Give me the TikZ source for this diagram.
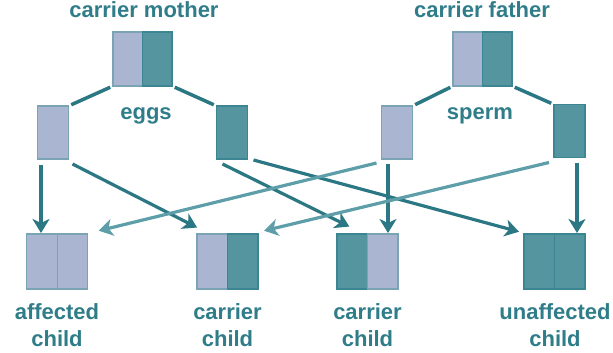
\documentclass[tikz,border=0pt]{standalone}
\usepackage{fontspec}
\setmainfont{Liberation Sans}
\usetikzlibrary{positioning,arrows.meta}
\definecolor{paleblue}{HTML}{AAB6D1}
\definecolor{tealfill}{HTML}{5595A0}
\definecolor{tealtext}{HTML}{2F7D89}
\definecolor{tealarrow}{HTML}{2B7884}
\definecolor{tealthin}{HTML}{5E9EA9}
\definecolor{paleedge}{HTML}{7AA3B3}
\definecolor{tealedge}{HTML}{3B8692}

\begin{document}
\begin{tikzpicture}[
	x=1pt, y=-1pt,
	half/.style = {minimum width=29.5pt, minimum height=54pt, inner sep=0pt, outer sep=0pt, line width=1.2pt},
	gamete/.style = {half, minimum width=31pt, minimum height=53pt},
	child/.style = {half, minimum width=30.5pt, minimum height=55pt},
	faulty/.style = {fill=paleblue, draw=paleedge},
	healthy/.style = {fill=tealfill, draw=tealedge},
	lbl/.style = {text=tealtext, font=\bfseries\fontsize{22}{27}\selectfont, align=center, inner sep=0pt},
	split/.style = {draw=tealarrow, line width=3.5pt, shorten <=3pt, shorten >=3pt},
	inherit/.style = {draw=tealarrow, line width=3.2pt, shorten >=1pt, -{Stealth[length=14pt,width=17pt,inset=4pt]}},
	inheritlight/.style = {inherit, draw=tealthin},
	]
	\useasboundingbox (0,0) rectangle (613,353);

	% parents
	\node[lbl, anchor=base] (mumlbl) at (144,18) {carrier mother};
	\node[half, faulty] (mL) at (127.75,59) {};
	\node[half, healthy, right=0pt of mL] (mR) {};
	\node[lbl, anchor=base] (dadlbl) at (482,18) {carrier father};
	\node[half, faulty] (fL) at (467.75,59) {};
	\node[half, healthy, right=0pt of fL] (fR) {};

	% eggs and sperm
	\node[gamete, faulty] (eL) at (53,132.5) {};
	\node[gamete, healthy] (eR) at (232,132.5) {};
	\node[lbl, anchor=base] (egglbl) at (146,119) {eggs};
	\node[gamete, faulty] (sL) at (397,132.5) {};
	\node[gamete, healthy] (sR) at (569.5,131) {};
	\node[lbl, anchor=base] (spermlbl) at (480,119) {sperm};

	\draw[split] (mL.south west) -- (eL.north east);
	\draw[split] (mR.south east) -- (eR.north west);
	\draw[split] (fL.south west) -- (sL.north east);
	\draw[split] (fR.south east) -- (sR.north west);

	% children
	\node[child, faulty] (c1L) at (42,261.5) {};
	\node[child, faulty, right=0pt of c1L] (c1R) {};
	\node[child, faulty] (c2L) at (212.25,261.5) {};
	\node[child, healthy, right=0pt of c2L] (c2R) {};
	\node[child, healthy] (c3L) at (352.25,261.5) {};
	\node[child, faulty, right=0pt of c3L] (c3R) {};
	\node[child, healthy] (c4L) at (539.25,261.5) {};
	\node[child, healthy, right=0pt of c4L] (c4R) {};

	\node[lbl, anchor=north] (c1lbl) at (57,303) {affected\\child};
	\node[lbl, anchor=north] (c2lbl) at (227.5,303) {carrier\\child};
	\node[lbl, anchor=north] (c3lbl) at (367.5,303) {carrier\\child};
	\node[lbl, anchor=north] (c4lbl) at (555,303) {unaffected\\child};

	% from the eggs
	\draw[inherit] ([xshift=-12pt,yshift=-6pt]eL.south) -- ([xshift=-12pt]eL.south |- c1L.north);
	\draw[inherit] ([xshift=4pt,yshift=-5pt]eL.south east) -- ([xshift=1pt,yshift=6pt]c2L.north west);
	\draw[inherit] ([xshift=6pt,yshift=-5pt]eR.south west) -- ([xshift=-2pt,yshift=7pt]c3L.north);
	\draw[inherit] ([xshift=6pt,yshift=-1pt]eR.south east) -- ([xshift=-4pt,yshift=2pt]c4L.north west);

	% from the sperm
	\draw[inheritlight] ([xshift=-5pt,yshift=-4pt]sL.south west) -- ([xshift=10pt,yshift=3pt]c1R.north east);
	\draw[inherit] ([xshift=-9pt,yshift=-5pt]sL.south) -- ([xshift=-9pt]sL.south |- c3R.north);
	\draw[inheritlight] ([xshift=-5pt,yshift=-5pt]sR.south west) -- ([xshift=5pt,yshift=3pt]c2R.north east);
	\draw[inherit] ([xshift=7.5pt,yshift=-5pt]sR.south) -- ([xshift=7.5pt]sR.south |- c4R.north);
\end{tikzpicture}
\end{document}
